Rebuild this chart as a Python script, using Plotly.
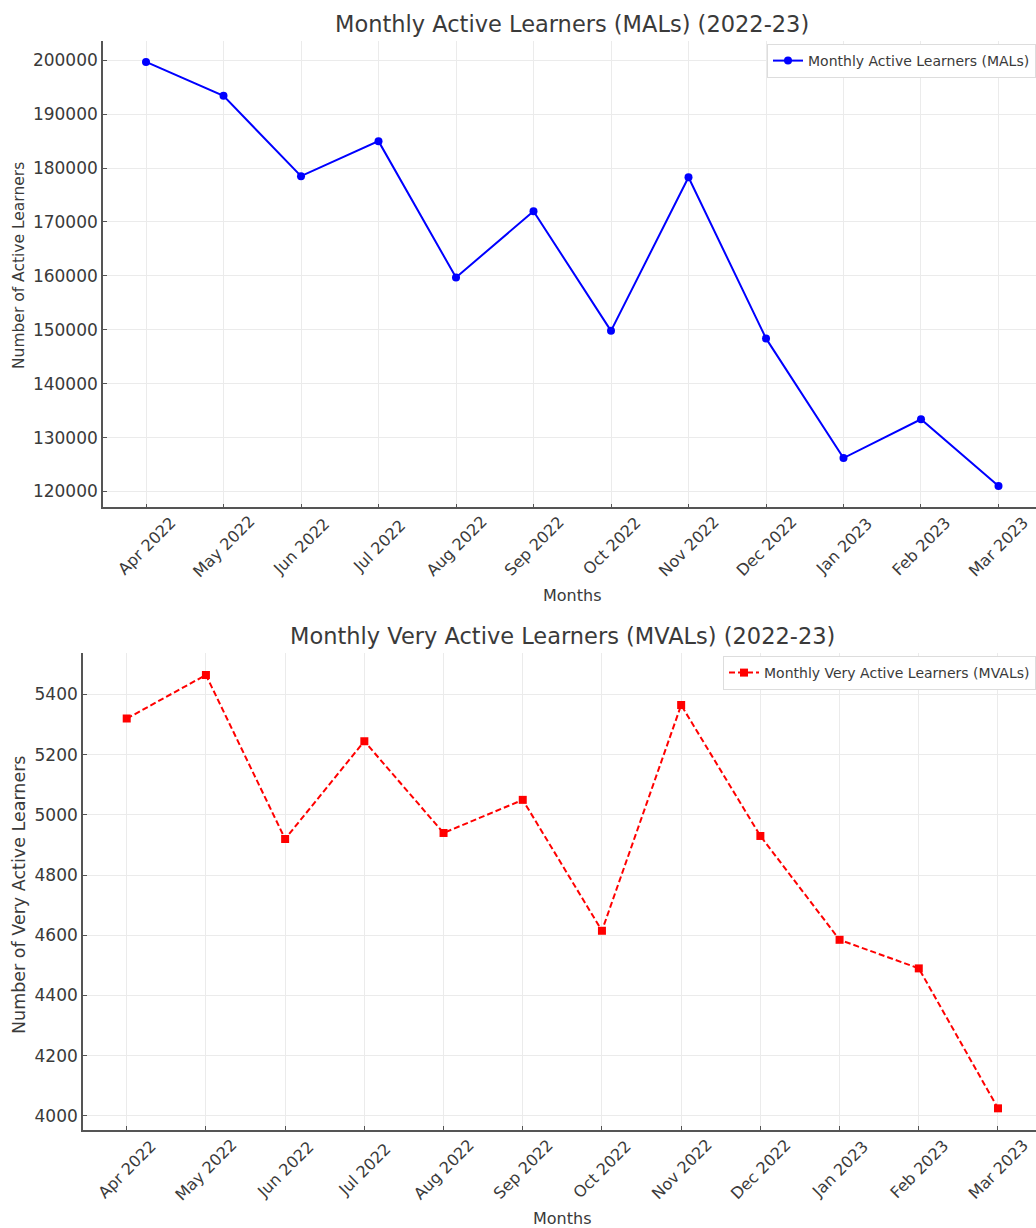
import plotly.graph_objects as go

months = ["Apr 2022", "May 2022", "Jun 2022", "Jul 2022", "Aug 2022", "Sep 2022",
          "Oct 2022", "Nov 2022", "Dec 2022", "Jan 2023", "Feb 2023", "Mar 2023"]
mals = [199700, 193400, 178500, 185000, 159700, 172000,
        149800, 178300, 148400, 126200, 133400, 121000]
mvals = [5320, 5465, 4920, 5245, 4940, 5050,
         4615, 5365, 4930, 4585, 4490, 4025]
mal_ticks = [120000, 130000, 140000, 150000, 160000, 170000, 180000, 190000, 200000]
mval_ticks = [4000, 4200, 4400, 4600, 4800, 5000, 5200, 5400]

W, H = 1036, 1228
FONT = "DejaVu Sans"
TXT = "#3a3a3a"
GRID = "#ebebeb"

def px_y(y):
    return 1 - y / H

fig = go.Figure()
fig.add_trace(go.Scatter(x=months, y=mals, mode="lines+markers",
                         name="Monthly Active Learners (MALs)",
                         line=dict(color="blue", width=2),
                         marker=dict(color="blue", size=8, symbol="circle"),
                         xaxis="x", yaxis="y", legend="legend"))
fig.add_trace(go.Scatter(x=months, y=mvals, mode="lines+markers",
                         name="Monthly Very Active Learners (MVALs)",
                         line=dict(color="red", width=2, dash="6px,3px"),
                         marker=dict(color="red", size=8, symbol="square"),
                         xaxis="x2", yaxis="y2", legend="legend2"))

axis_common = dict(showgrid=True, gridcolor=GRID, gridwidth=1.3, showline=True,
                   linecolor="#555555", linewidth=1.6, ticks="inside", ticklen=4,
                   tickcolor="#555555", zeroline=False)

fig.update_layout(
    width=W, height=H, margin=dict(l=0, r=0, t=0, b=0),
    paper_bgcolor="white", plot_bgcolor="white",
    font=dict(family=FONT, color=TXT),
    xaxis=dict(domain=[103 / W, 1.0], anchor="y", type="category",
               range=[-0.555, 11.484], showticklabels=False, **axis_common),
    yaxis=dict(domain=[px_y(507.3), px_y(40.7)], anchor="x",
               range=[117065, 203635], tickvals=mal_ticks, tickformat="d",
               tickfont=dict(size=17, color=TXT), **axis_common),
    xaxis2=dict(domain=[83 / W, 1.0], anchor="y2", type="category",
                range=[-0.552, 11.48], showticklabels=False, **axis_common),
    yaxis2=dict(domain=[px_y(1130), px_y(653.3)], anchor="x2",
                range=[3953, 5537], tickvals=mval_ticks, tickformat="d",
                tickfont=dict(size=17, color=TXT), **axis_common),
    legend=dict(x=1.0, xanchor="right", y=px_y(44), yanchor="top",
                bgcolor="white", bordercolor="#dddddd", borderwidth=1,
                font=dict(size=14, color=TXT)),
    legend2=dict(x=1.0, xanchor="right", y=px_y(656), yanchor="top",
                 bgcolor="white", bordercolor="#dddddd", borderwidth=1,
                 font=dict(size=14, color=TXT)),
    showlegend=True,
)

def A(text, x, y, xref="paper", size=16, angle=0):
    return dict(text=text, x=x, y=y, xref=xref, yref="paper", showarrow=False,
                xanchor="center", yanchor="middle", textangle=angle,
                font=dict(size=size, color=TXT))

ann = [
    A("Monthly Active Learners (MALs) (2022-23)", 572 / W, px_y(24), size=22.5),
    A("Monthly Very Active Learners (MVALs) (2022-23)", 562 / W, px_y(636), size=22.5),
    A("Months", 572 / W, px_y(595), size=16),
    A("Months", 562 / W, px_y(1218), size=16),
    A("Number of Active Learners", 19 / W, px_y(266), size=15.5, angle=-90),
    A("Number of Very Active Learners", 19 / W, px_y(895), size=17.5, angle=-90),
]
for m in months:
    ann.append(A(m, m, px_y(546), xref="x", size=16, angle=-45))
    ann.append(A(m, m, px_y(1169), xref="x2", size=16, angle=-45))
fig.update_layout(annotations=ann)

fig.write_html("out.html", config={"displayModeBar": False},
               post_script="document.body.style.margin='0';")
